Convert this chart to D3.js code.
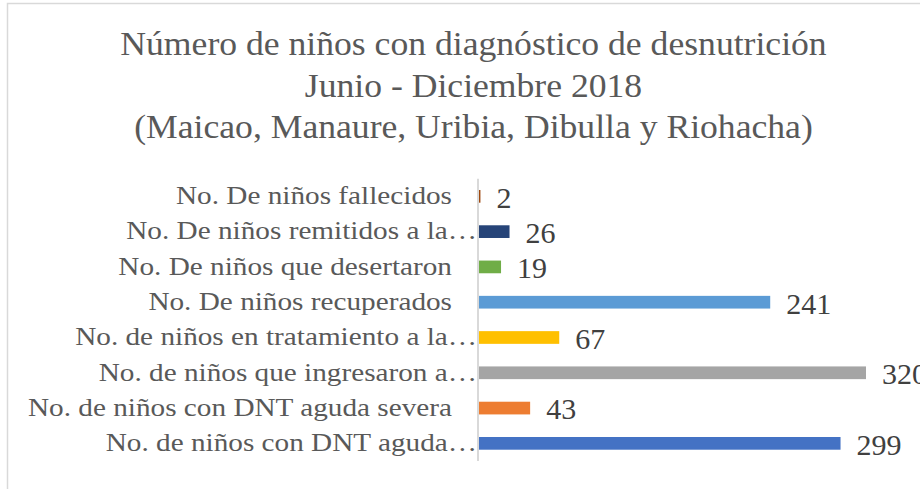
<!DOCTYPE html>
<html><head><meta charset="utf-8">
<script src="https://cdn.jsdelivr.net/npm/d3@7"></script>
<style>
html,body{margin:0;padding:0;background:#fff;overflow:hidden}
svg{display:block}
</style></head>
<body>
<svg id="c" width="920" height="489"></svg>
<script>
const titleLines = ["Número de niños con diagnóstico de desnutrición","Junio - Diciembre 2018","(Maicao, Manaure, Uribia, Dibulla y Riohacha)"];
const categories = ["No. De niños fallecidos","No. De niños remitidos a la…","No. De niños que desertaron","No. De niños recuperados","No. de niños en tratamiento a la…","No. de niños que ingresaron a…","No. de niños con DNT aguda severa","No. de niños con DNT aguda…"];
const values = [2,26,19,241,67,320,43,299];
const colors = ["#9E480E","#264478","#70AD47","#5B9BD5","#FFC000","#A5A5A5","#ED7D31","#4472C4"];

const svg = d3.select("#c");
const font = "'Liberation Serif','Times New Roman',serif";

svg.append("rect").attr("x",7.5).attr("y",3.5).attr("width",1000).attr("height",1000)
  .attr("fill","#fff").attr("stroke","#d9d9d9").attr("stroke-width",1.5);

svg.append("g").selectAll("text").data(titleLines).join("text")
  .attr("transform",(d,i)=>`translate(473.5,${55+i*41.5}) scale(1.08,1)`)
  .attr("text-anchor","middle").attr("font-family",font).attr("font-size",33)
  .attr("fill","#595959").text(d=>d);

const x = d3.scaleLinear().domain([0,320]).range([478,866]);
const y = d3.scaleBand().domain(categories).range([178.7,461]).paddingInner(0.64).paddingOuter(0.32);

svg.append("g").selectAll("rect").data(categories).join("rect")
  .attr("x",x(0)).attr("y",d=>y(d)).attr("height",y.bandwidth())
  .attr("width",(d,i)=>x(values[i])-x(0)).attr("fill",(d,i)=>colors[i]);

svg.append("line").attr("x1",x(0)).attr("x2",x(0)).attr("y1",178.7).attr("y2",461)
  .attr("stroke","#d9d9d9").attr("stroke-width",2);

svg.append("g").selectAll("text").data(categories).join("text")
  .attr("transform",d=>`translate(${d.endsWith("…")?477:452},${y(d)+y.bandwidth()/2}) scale(1.125,1)`)
  .attr("dy","0.3em")
  .attr("text-anchor","end").attr("font-family",font).attr("font-size",26)
  .attr("fill","#595959").text(d=>d);

svg.append("g").selectAll("text").data(categories).join("text")
  .attr("x",(d,i)=>x(values[i])+16)
  .attr("y",d=>y(d)+y.bandwidth()/2).attr("dy","0.38em")
  .attr("font-family",font).attr("font-size",30)
  .attr("fill","#404040").text((d,i)=>values[i]);
</script>
</body></html>
